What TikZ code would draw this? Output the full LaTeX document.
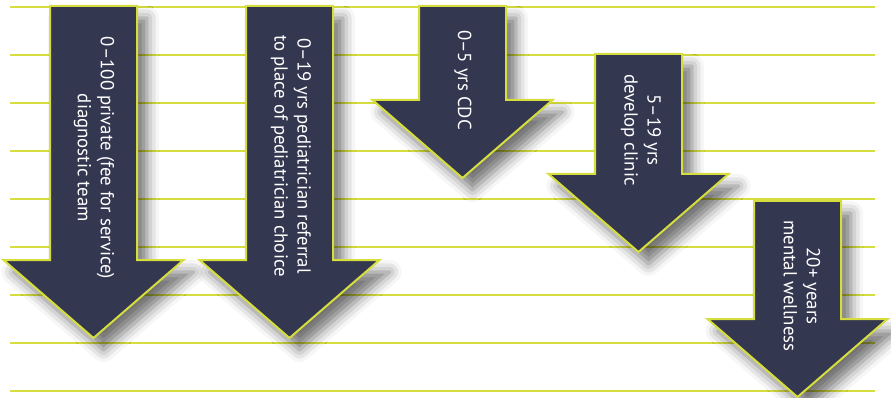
\documentclass[tikz,border=0pt]{standalone}
\usepackage{fontspec}
\setmainfont{PT Sans}
\usetikzlibrary{shadows.blur}
\definecolor{lineyel}{RGB}{214,222,62}
\definecolor{navy}{RGB}{52,55,80}
\tikzset{
  rule/.style={draw=lineyel, line width=2pt},
  arrowbox/.style={fill=navy, draw=lineyel, line width=2pt, line join=miter,
    blur shadow={shadow xshift=10pt, shadow yshift=-12pt, shadow blur radius=12pt, shadow opacity=55}},
  label/.style={rotate=-90, text=white, align=center, inner sep=0pt,
    font=\fontsize{18.8}{23}\selectfont}
}
\newcommand{\myarrow}[3]{%
  \path[arrowbox] (#1,#2) -- ({#1+87},#2) -- ({#1+87},#3) -- ({#1+133.5},#3)
    -- ({#1+43.5},{#3+78}) -- ({#1-46.5},#3) -- (#1,#3) -- cycle;}
\begin{document}
\begin{tikzpicture}[x=1pt,y=-1pt]
\useasboundingbox (0,0) rectangle (891,398);
\foreach \k in {0,...,8} {
  \draw[rule] (10,{7+48*\k}) -- (875,{7+48*\k});
}
\myarrow{50}{6}{260}
\myarrow{246}{6}{260}
\myarrow{419}{6}{100}
\myarrow{595}{54}{174}
\myarrow{754}{201}{319}
\node[label] (t1) at (94,158) {0--100 private (fee for service)\\diagnostic team};
\node[label] (t2) at (291,156) {0--19 yrs pediatrician referral\\to place of pediatrician choice};
\node[label] (t3) at (463,80) {0--5 yrs CDC};
\node[label] (t4) at (641,130) {5--19 yrs\\develop clinic};
\node[label] (t5) at (802,286) {20+ years\\mental wellness};
\end{tikzpicture}
\end{document}
